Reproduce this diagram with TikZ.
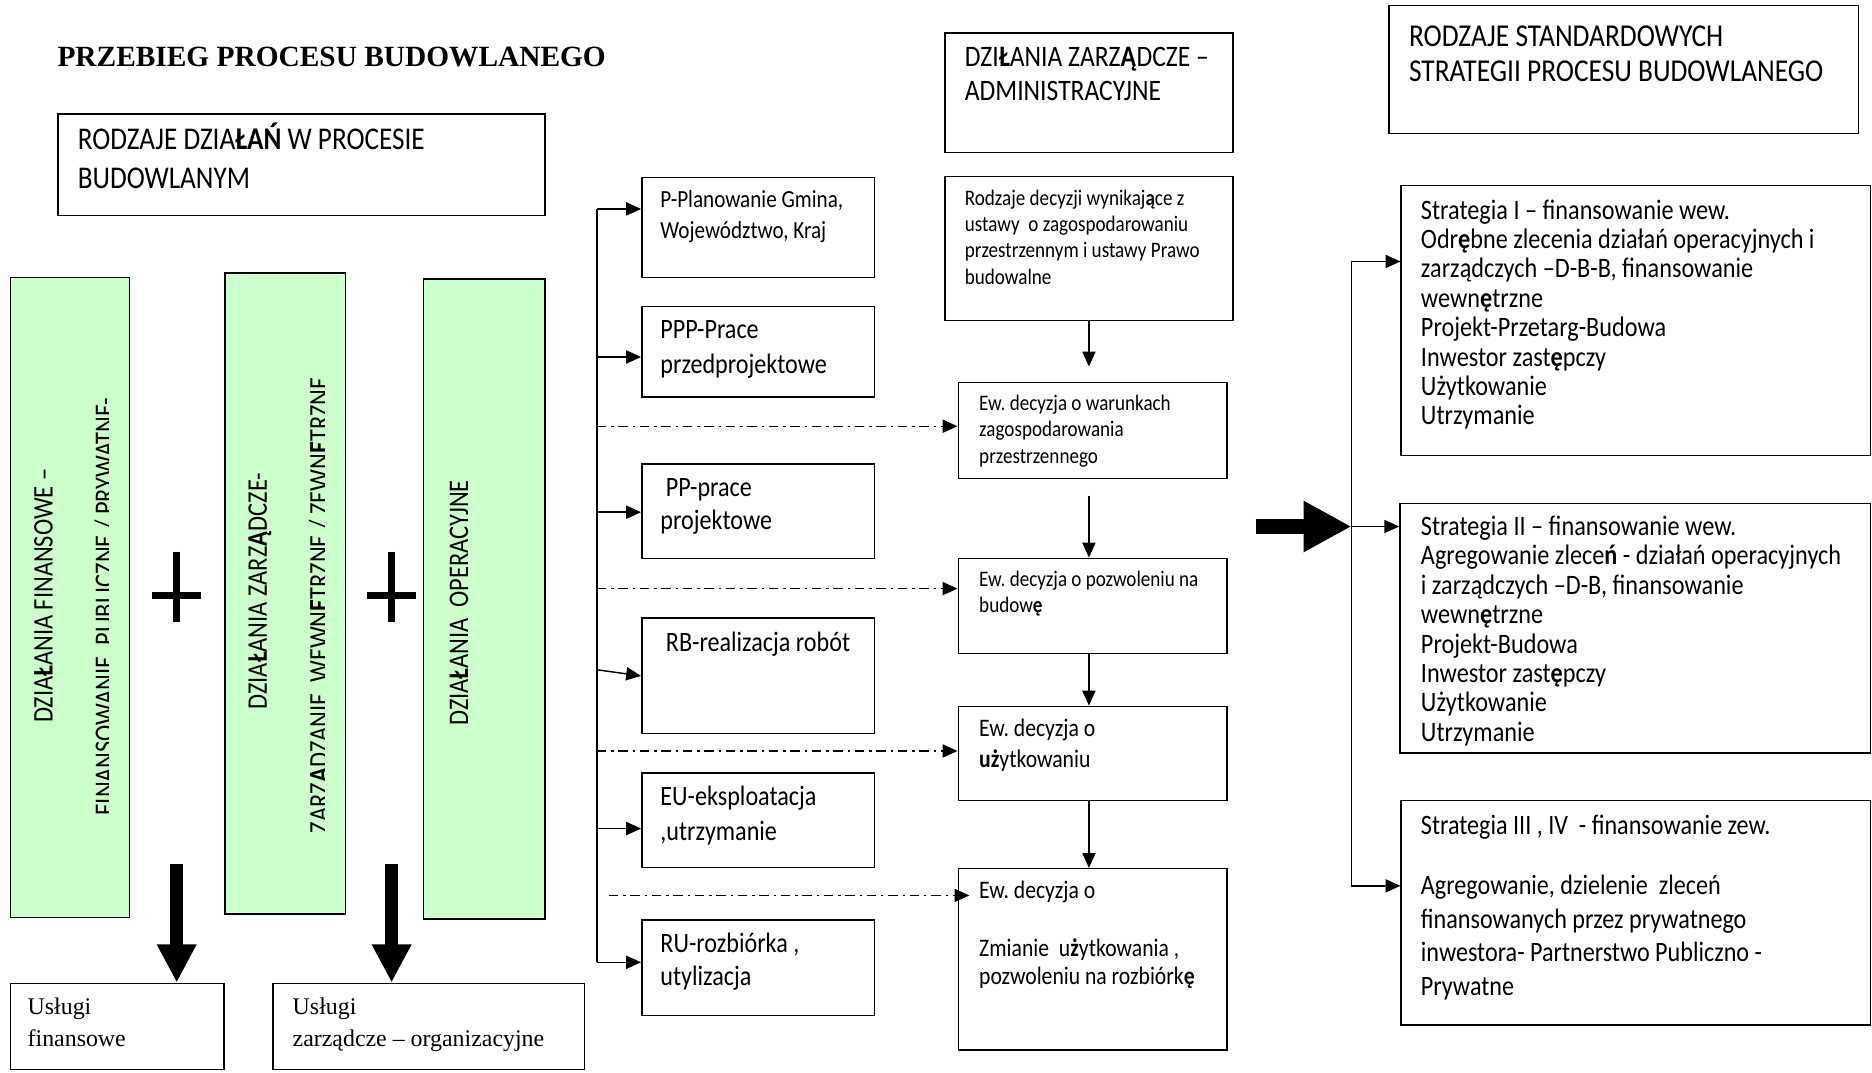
\documentclass[tikz,border=0pt]{standalone}
\usepackage{fontspec}
\setmainfont{Liberation Serif}
\newfontfamily\nar[FakeStretch=0.86]{Carlito}
\usetikzlibrary{arrows.meta}
% word space used inside text blocks; set with the font
\def\curspace{0.25em}
% narrow sans at a given size and line distance
\newcommand\narf[2]{\nar\fontsize{#1}{#2}\selectfont\frenchspacing\def\curspace{0.194em}}
\newcommand\dsp{\hspace*{0.39em}}
\definecolor{paleGreen}{RGB}{204,255,204}
\begin{document}
\begin{tikzpicture}[x=1pt,y=-1pt,
  box/.style={draw=black, line width=1.2pt, inner sep=0pt, anchor=north west},
  gbox/.style={box, fill=paleGreen},
  tx/.style={anchor=base west, inner sep=0pt, align=left, text width=700pt,
    execute at begin node={\spaceskip=\curspace\relax\xspaceskip=\curspace\relax}},
  gtx/.style={inner sep=0pt, rotate=90, anchor=base, font=\narf{23.8}{28},
    execute at begin node={\spaceskip=\curspace\relax}},
  arr/.style={line width=1.2pt, -{Triangle[length=12.5pt,width=11pt]}},
  dd/.style={arr, dash pattern=on 8pt off 4pt on 2pt off 4pt},
  bigdown/.style={line width=10.5pt, -{Triangle[length=32pt,width=31pt]}},
  bigright/.style={line width=12.6pt, -{Triangle[length=40pt,width=40pt]}},
  plusbar/.style={line width=6pt}
]
\fill[white] (0,0) rectangle (1568,898);
\useasboundingbox (0,0) rectangle (1568,898);

% ---------- title and left column ----------
\node[tx, font=\bfseries\fontsize{24.6}{30}\selectfont] (title) at (48,56) {PRZEBIEG PROCESU BUDOWLANEGO};

\node[box, minimum width=408, minimum height=85] (A) at (48,95) {};
\node[tx, font=\narf{26.5}{32}] (At) at (65,125.5) {RODZAJE DZIA\textbf{ŁAŃ} W PROCESIE\\BUDOWLANYM};

\node[gbox, minimum width=100, minimum height=536] (G1) at (8,232) {};
\node[gbox, minimum width=101, minimum height=537] (G2) at (188,228) {};
\node[gbox, minimum width=102, minimum height=536] (G3) at (354,233) {};

\node[gtx] (G1a) at (44,499) {DZIA\textbf{Ł}ANIA FINANSOWE –};
\begin{scope}
  \clip (8,232) rectangle (91,768);
  \node[gtx] (G1b) at (95.6,508) {FINANSOWANIE\dsp PUBLICZNE / PRYWATNE-};
\end{scope}
\node[gtx] (G2a) at (223.5,495) {DZIA\textbf{Ł}ANIA ZARZ\textbf{Ą}DCZE-};
\begin{scope}
  \clip (188,228) rectangle (271.5,765);
  \node[gtx] (G2b) at (275.2,507) {ZARZ\textbf{Ą}DZANIE\dsp WEWN\textbf{Ę}TRZNE / ZEWN\textbf{Ę}TRZNE};
\end{scope}
\node[gtx] (G3a) at (392,505) {DZIA\textbf{Ł}ANIA\dsp OPERACYJNE};

% plus signs between the green columns
\draw[plusbar] (127,499) -- (168,499) (147.5,462) -- (147.5,521);
\draw[plusbar] (307.5,499) -- (348.5,499) (328,462) -- (328,521);

\node[box, minimum width=179, minimum height=72] (UF) at (8,823) {};
\node[tx, font=\fontsize{20}{27}\selectfont] (UFt) at (23,849.6) {Usługi\\finansowe};
\node[box, minimum width=261, minimum height=72] (UZ) at (228,823) {};
\node[tx, font=\fontsize{20}{27}\selectfont] (UZt) at (245,849.6) {Usługi\\zarządcze – organizacyjne};

\coordinate (da1) at (148,724);
\coordinate (da2) at (328,724);
\draw[bigdown] (da1) -- (da1 |- UF.north);
\draw[bigdown] (da2) -- (da2 |- UZ.north);

% ---------- stages of the process ----------
\node[box, minimum width=195, minimum height=84] (P) at (537,148) {};
\node[tx, font=\narf{20.6}{26}] (Pt) at (553,173.6) {P-Planowanie Gmina,\\Województwo, Kraj};
\node[box, minimum width=195, minimum height=76] (PPP) at (537,256) {};
\node[tx, font=\narf{23.5}{29}] (PPPt) at (553,283.6) {PPP-Prace\\przedprojektowe};
\node[box, minimum width=195, minimum height=79] (PP) at (537,388) {};
\node[tx, font=\narf{23.5}{28}] (PPt) at (553,415.6) {\hspace*{0.194em}PP-prace\\projektowe};
\node[box, minimum width=195, minimum height=97] (RB) at (537,517) {};
\node[tx, font=\narf{23.5}{28}] (RBt) at (553,545.6) {\hspace*{0.194em}RB-realizacja robót};
\node[box, minimum width=195, minimum height=79] (EU) at (537,647) {};
\node[tx, font=\narf{23.5}{29}] (EUt) at (553,674.6) {EU-eksploatacja\\,utrzymanie};
\node[box, minimum width=195, minimum height=80] (RU) at (537,770) {};
\node[tx, font=\narf{23.5}{28}] (RUt) at (553,797.6) {RU-rozbiórka ,\\utylizacja};

\coordinate (t1) at (500,175);
\coordinate (t2) at (500,299);
\coordinate (t3) at (500,429);
\coordinate (t4) at (500,561);
\coordinate (t5) at (500,694);
\coordinate (t6) at (500,806);
\draw[line width=1.2pt] (t1) -- (t6);
\draw[arr] (t1) -- (t1 -| P.west);
\draw[arr] (t2) -- (t2 -| PPP.west);
\draw[arr] (t3) -- (t3 -| PP.west);
\draw[arr] (t4) -- (RB.west);
\draw[arr] (t5) -- (t5 -| EU.west);
\draw[arr] (t6) -- (t6 -| RU.west);

% ---------- administrative decisions ----------
\node[box, minimum width=241, minimum height=100] (ADM) at (791,27) {};
\node[tx, font=\narf{24.9}{28}] (ADMt) at (808,56) {DZI\textbf{Ł}ANIA ZARZ\textbf{Ą}DCZE –\\ADMINISTRACYJNE};
\node[box, minimum width=241, minimum height=121] (ROD) at (791,147) {};
\node[tx, font=\narf{18.6}{22}] (RODt) at (808,172) {Rodzaje decyzji wynikaj\textbf{ą}ce z\\ustawy\dsp o zagospodarowaniu\\przestrzennym i ustawy Prawo\\budowalne};
\node[box, minimum width=225, minimum height=80] (EW1) at (802,320) {};
\node[tx, font=\narf{18.6}{22}] (EW1t) at (820,344) {Ew. decyzja o warunkach\\zagospodarowania\\przestrzennego};
\node[box, minimum width=225, minimum height=80] (EW2) at (802,467) {};
\node[tx, font=\narf{18.6}{22}] (EW2t) at (820,491) {Ew. decyzja o pozwoleniu na\\budow\textbf{ę}};
\node[box, minimum width=225, minimum height=79] (EW3) at (802,591) {};
\node[tx, font=\narf{21.1}{26}] (EW3t) at (820,616.8) {Ew. decyzja o\\\textbf{uż}ytkowaniu};
\node[box, minimum width=225, minimum height=152] (EW4) at (802,727) {};
\node[tx, font=\narf{21.1}{24}] (EW4t) at (820,752.8) {Ew. decyzja o\\[24pt]Zmianie\dsp u\textbf{ż}ytkowania ,\\pozwoleniu na rozbiórk\textbf{ę}};

\draw[arr, shorten >=13pt] (ROD.south) -- (ROD.south |- EW1.north);
\draw[arr, shorten <=14pt] (EW1.south -| ROD.south) -- (EW2.north -| ROD.south);
\draw[arr] (EW2.south -| ROD.south) -- (EW3.north -| ROD.south);
\draw[arr] (EW3.south -| ROD.south) -- (EW4.north -| ROD.south);

\coordinate (d1) at (500,357);
\coordinate (d2) at (500,493);
\coordinate (d3) at (500,629);
\coordinate (d4) at (510,750);
\draw[dd] (d1) -- (d1 -| EW1.west);
\draw[dd] (d2) -- (d2 -| EW2.west);
\draw[dd] (d3) -- (d3 -| EW3.west);
\draw[dd] (d4) -- ([xshift=10pt]d4 -| EW4.west);

% ---------- standard strategies ----------
\node[box, minimum width=393, minimum height=107] (STD) at (1163,4) {};
\node[tx, font=\narf{26.7}{30}] (STDt) at (1180,38.6) {RODZAJE STANDARDOWYCH\\STRATEGII PROCESU BUDOWLANEGO};

\node[box, minimum width=393, minimum height=226] (S1) at (1173,155) {};
\node[tx, font=\narf{23.6}{24.6}] (S1t) at (1190,183.6) {Strategia I – finansowanie wew.\\Odr\textbf{ę}bne zlecenia działań operacyjnych i\\zarządczych –D-B-B, finansowanie\\wewn\textbf{ę}trzne\\Projekt-Przetarg-Budowa\\Inwestor zast\textbf{ę}pczy\\Użytkowanie\\Utrzymanie};
\node[box, minimum width=394, minimum height=209] (S2) at (1172,421) {};
\node[tx, font=\narf{23.6}{24.6}] (S2t) at (1190,448.6) {Strategia II – finansowanie wew.\\Agregowanie zlece\textbf{ń} - działań operacyjnych\\i zarządczych –D-B, finansowanie\\wewn\textbf{ę}trzne\\Projekt-Budowa\\Inwestor zast\textbf{ę}pczy\\Użytkowanie\\Utrzymanie};
\node[box, minimum width=393, minimum height=188] (S3) at (1173,670) {};
\node[tx, font=\narf{23.5}{28}] (S3t) at (1190,698.6) {Strategia III , IV\dsp - finansowanie zew.\\[23pt]Agregowanie, dzielenie\dsp zleceń\\finansowanych przez prywatnego\\inwestora- Partnerstwo Publiczno -\\Prywatne};

\coordinate (r1) at (1132,219);
\coordinate (r2) at (1132,441);
\coordinate (r3) at (1132,742);
\draw[line width=1.2pt] (r1) -- (r3);
\draw[arr] (r1) -- (r1 -| S1.west);
\draw[arr] (r2) -- (r2 -| S2.west);
\draw[arr] (r3) -- (r3 -| S3.west);
\coordinate (bigA) at (1052,441);
\draw[bigright] (bigA) -- (r2);
\end{tikzpicture}
\end{document}
